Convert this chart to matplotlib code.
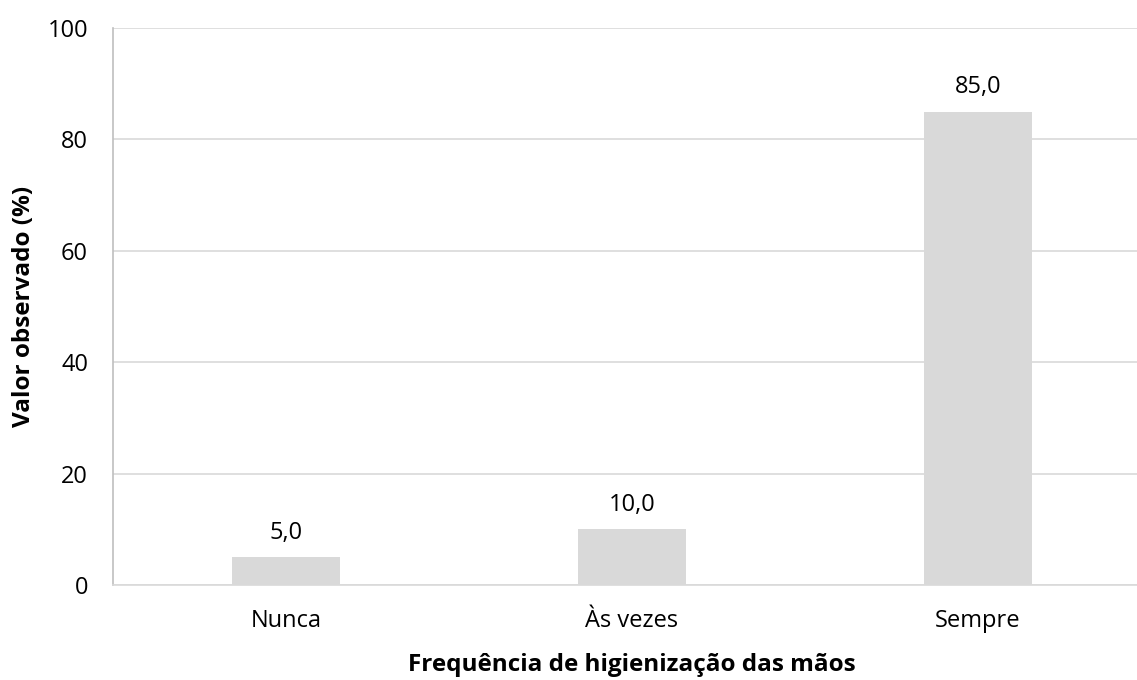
import matplotlib.pyplot as plt

plt.rcParams['font.family'] = ['Open Sans', 'DejaVu Sans']

categorias = ["Nunca", "Às vezes", "Sempre"]
valores = [5.0, 10.0, 85.0]
rotulos = ["5,0", "10,0", "85,0"]
yticks = [0, 20, 40, 60, 80, 100]

fig = plt.figure(figsize=(11.37, 6.8), dpi=100)
# plot area runs past the right edge, like the original
ax = fig.add_axes([113 / 1137, 95 / 680, 1038 / 1137, 557 / 680])

x = range(len(categorias))
bars = ax.bar(x, valores, width=0.315, color="#D9D9D9", zorder=3)

for b, txt in zip(bars, rotulos):
    ax.annotate(txt, (b.get_x() + b.get_width() / 2, b.get_height()),
                xytext=(0, 9), textcoords="offset points",
                ha="center", va="bottom", fontsize=17)

ax.set_xlim(-0.5, 2.5)
ax.set_ylim(0, 100)
ax.set_yticks(yticks)
ax.set_xticks(list(x))
ax.set_xticklabels(categorias)
ax.tick_params(axis="both", length=0, labelsize=17)
ax.tick_params(axis="y", pad=18)
ax.tick_params(axis="x", pad=17)
ax.yaxis.grid(True, color="#D9D9D9", linewidth=1.2, zorder=0)

for s in ["top", "right"]:
    ax.spines[s].set_visible(False)
ax.spines["left"].set_color("#BFBFBF")
ax.spines["bottom"].set_color("#D9D9D9")
ax.spines["left"].set_linewidth(1.2)
ax.spines["bottom"].set_linewidth(1.2)

ax.set_xlabel("Frequência de higienização das mãos", fontsize=17.5, fontweight="bold")
ax.set_ylabel("Valor observado (%)", fontsize=17.5, fontweight="bold")
ax.xaxis.set_label_coords(0.5, -(665 - 585) / 557)
ax.yaxis.set_label_coords(-(113 - 24) / 1038, 0.5)
ax.xaxis.label.set_va("center")
ax.yaxis.label.set_va("center")

fig.savefig("out.png", dpi=100)
